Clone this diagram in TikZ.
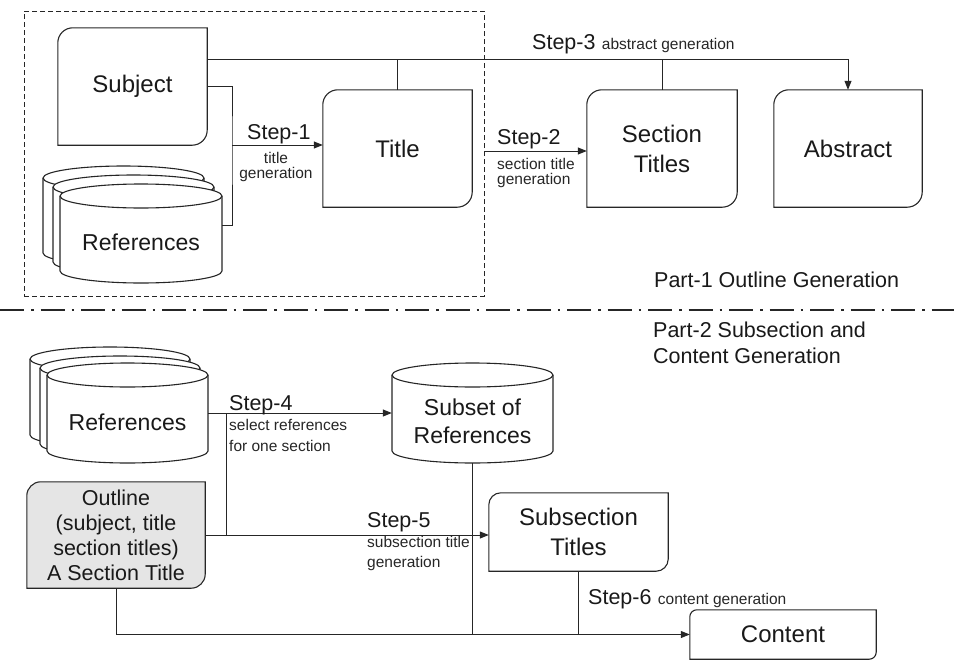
\documentclass[tikz,border=0pt]{standalone}
\usepackage{fontspec}
\setmainfont{Liberation Sans}
\usetikzlibrary{arrows.meta,calc}
\pgfdeclarelayer{bg}
\pgfsetlayers{bg,main}
\tikzset{
  boxline/.style={line width=1.1pt, draw=black!85},
  conn/.style={line width=1pt, draw=black!85},
  arr/.style={conn, -{Triangle[length=9pt,width=7pt]}},
  boxnode/.style={inner sep=0pt, align=center, text=black!90, font=\fontsize{24}{30}\selectfont},
  reftext/.style={inner sep=0pt, align=center, text=black!90, font=\fontsize{23}{28}\selectfont},
  steplab/.style={inner sep=0pt, anchor=base west, text=black!90, font=\fontsize{21.5}{26}\selectfont},
  small/.style={inner sep=0pt, anchor=base west, font=\fontsize{15.5}{18}\selectfont, text=black!85},
  partlab/.style={inner sep=0pt, anchor=base west, text=black!90, font=\fontsize{21.5}{26}\selectfont},
}
\newcommand\dbox[3][]{%
  \draw[boxline,#1] ($(#2.north west)+(0,#3)$) .. controls ($(#2.north west)+(0,0.45*#3)$) and ($(#2.north west)+(0.45*#3,0)$) .. ($(#2.north west)+(#3,0)$) -- (#2.north east) -- ($(#2.south east)+(0,-#3)$) .. controls ($(#2.south east)+(0,-0.45*#3)$) and ($(#2.south east)+(-0.45*#3,0)$) .. ($(#2.south east)+(-#3,0)$) -- (#2.south west) -- cycle;}
\newcommand\cyl[5]{%
  \pgfmathsetmacro\cM{(#1+#2)/2}%
  \pgfmathsetmacro\cA{(#2-#1)/2}%
  \pgfmathsetmacro\cK{0.552*\cA}%
  \pgfmathsetmacro\cE{0.552*#5}%
  \filldraw[boxline,fill=white] (#1,#3) -- (#1,#4) .. controls (#1,#4+\cE) and (\cM-\cK,#4+#5) .. (\cM,#4+#5) .. controls (\cM+\cK,#4+#5) and (#2,#4+\cE) .. (#2,#4) -- (#2,#3) .. controls (#2,#3-\cE) and (\cM+\cK,#3-#5) .. (\cM,#3-#5) .. controls (\cM-\cK,#3-#5) and (#1,#3-\cE) .. (#1,#3) -- cycle;
  \draw[boxline] (#1,#3) .. controls (#1,#3+\cE) and (\cM-\cK,#3+#5) .. (\cM,#3+#5) .. controls (\cM+\cK,#3+#5) and (#2,#3+\cE) .. (#2,#3);}
\begin{document}
\begin{tikzpicture}[x=1pt,y=-1pt]
\useasboundingbox (0,0) rectangle (954,672);

% ---------- Part 1 ----------
\node[draw=black!85, line width=1pt, dash pattern=on 5pt off 3pt, minimum width=460pt, minimum height=285pt, inner sep=0pt] (frame) at (254,153.5) {};

\node[boxnode, minimum width=149pt, minimum height=117pt] (subject) at (132.5,86.5) {Subject};
\node[boxnode, minimum width=149pt, minimum height=117pt] (title) at (397.5,148.5) {Title};
\node[boxnode, minimum width=150pt, minimum height=117pt] (sect) at (662,148.5) {Section\\Titles};
\node[boxnode, minimum width=148pt, minimum height=117pt] (abstract) at (848,148.5) {Abstract};
\begin{pgfonlayer}{bg}
  \dbox{subject}{15}
  \dbox{title}{15}
  \dbox{sect}{15}
  \dbox{abstract}{15}
\end{pgfonlayer}

\cyl{43}{204}{178}{253}{12}
\cyl{53}{214}{187}{262}{12}
\cyl{60}{222}{196}{271}{12}
\node[reftext, minimum width=162pt] (refs1) at (141,242) {References};

\coordinate (m3) at ([yshift=-32pt]subject.north east);
\coordinate (m1) at (232,145);
\draw[arr] (m3) -| (abstract.north);
\draw[conn] (title.north) -- (title.north |- m3);
\draw[conn] (sect.north) -- (sect.north |- m3);
\draw[conn] ([yshift=-59pt]subject.north east) -| (m1) |- ([yshift=17pt]refs1.east);
\draw[arr] (m1) -- (m1 -| title.west);
\draw[arr] (frame.east |- 0,151) -- (sect.west |- 0,151);

\node[steplab] (s1) at (247,139) {Step-1};
\node[small, anchor=base] (s1a) at (276,163) {title};
\node[small, anchor=base] (s1b) at (276,178) {generation};
\node[steplab] (s2) at (497,144) {Step-2};
\node[small] (s2a) at (497,169) {section title};
\node[small] (s2b) at (497,184) {generation};
\node[steplab] (s3) at (532,49) {Step-3};
\node[small] (s3a) at ([xshift=6pt]s3.base east) {abstract generation};
\node[partlab] (p1) at (654,287) {Part-1 Outline Generation};

% ---------- separator ----------
\draw[line width=2pt, black!85, dash pattern=on 24pt off 7pt on 2.5pt off 7pt] (0,310) -- (954,310);

% ---------- Part 2 ----------
\node[partlab] (p2a) at (653,337) {Part-2 Subsection and};
\node[partlab] (p2b) at (653,363) {Content Generation};

\cyl{30}{190}{359}{435}{12}
\cyl{40}{200}{368}{444}{12}
\cyl{47}{208}{375}{451}{12}
\node[reftext, minimum width=161pt] (refs2) at (127.5,422) {References};

\cyl{392}{553}{375}{451}{12}
\node[reftext, minimum width=161pt, minimum height=84pt] (subset) at (472.5,421) {Subset of\\References};

\node[boxnode, font=\fontsize{21.5}{25}\selectfont, minimum width=178pt, minimum height=106pt] (outline) at (116,535) {Outline\\(subject, title\\section titles)\\A Section Title};
\node[boxnode, minimum width=179pt, minimum height=78pt] (subsec) at (578.5,532) {Subsection\\Titles};
\node[boxnode, minimum width=186pt, minimum height=49pt] (content) at (783,634.5) {Content};
\begin{pgfonlayer}{bg}
  \dbox[fill=black!10]{outline}{14}
  \dbox{subsec}{12}
  \dbox{content}{7}
\end{pgfonlayer}

\coordinate (m4) at (226,413);
\draw[arr] ([yshift=9pt]refs2.east) -- ([yshift=8pt]subset.west);
\draw[conn] (m4) -- (m4 |- outline.east);
\draw[arr] (outline.east) -- (outline.east -| subsec.west);
\draw[arr] (outline.south) |- (content.west);
\draw[conn] (subset.south) -- (subset.south |- content.west);
\draw[conn] (subsec.south) -- (subsec.south |- content.west);

\node[steplab] (s4) at (229,410) {Step-4};
\node[small] (s4a) at (229,430) {select references};
\node[small] (s4b) at (229,451) {for one section};
\node[steplab] (s5) at (367,527) {Step-5};
\node[small] (s5a) at (367,547) {subsection title};
\node[small] (s5b) at (367,567) {generation};
\node[steplab] (s6) at (588,604) {Step-6};
\node[small] (s6a) at ([xshift=6pt]s6.base east) {content generation};
\end{tikzpicture}
\end{document}
